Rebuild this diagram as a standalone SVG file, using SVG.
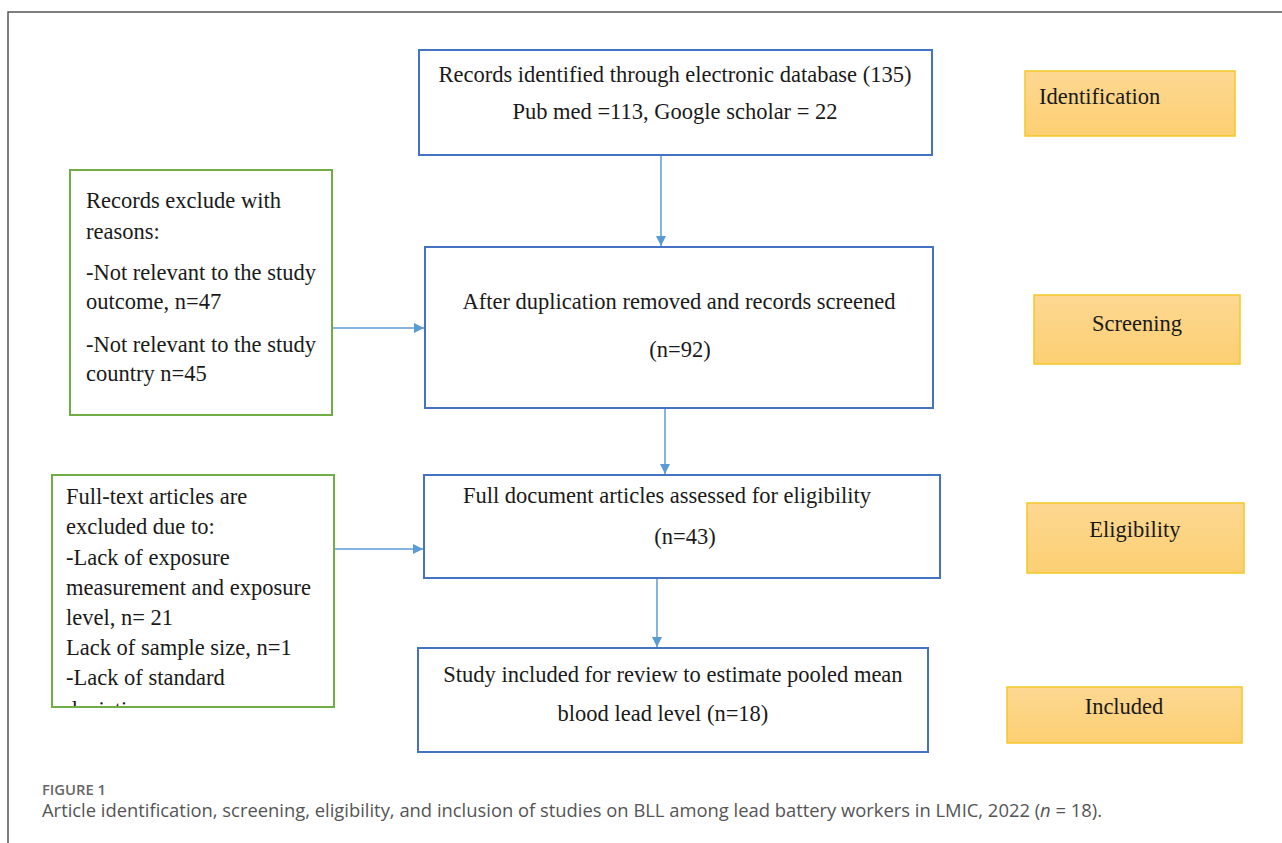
<svg xmlns="http://www.w3.org/2000/svg" width="1282" height="843" viewBox="0 0 1282 843">
<style>
.bg{fill:#ffffff}
.frame{fill:none;stroke:#555555;stroke-width:1.5}
.blue{fill:#ffffff;stroke:#4472c4;stroke-width:2}
.green{fill:#ffffff;stroke:#70ad47;stroke-width:2}
.orange{fill:url(#og);stroke:#f5c828;stroke-width:1.5}
.t{font-family:"Liberation Serif","Times New Roman",serif;font-size:22.5px;fill:#1a1a1a}
.c{text-anchor:middle}
.conn{stroke:#5b9bd5;stroke-width:1.5;fill:none;marker-end:url(#ah)}
.cap1{font-family:"Open Sans","Noto Sans",sans-serif;font-size:14px;font-weight:600;fill:#666666}
.cap2{font-family:"Open Sans","Noto Sans",sans-serif;font-size:18px;fill:#555555}
</style>
<defs>
<linearGradient id="og" x1="0" y1="0" x2="0" y2="1">
<stop offset="0" stop-color="#fdd892"/>
<stop offset="1" stop-color="#fccf72"/>
</linearGradient>
<marker id="ah" viewBox="0 0 10 10" refX="10" refY="5" markerWidth="10" markerHeight="10" markerUnits="userSpaceOnUse" orient="auto">
<path d="M0,0 L10,5 L0,10 z" fill="#5b9bd5"/>
</marker>
<clipPath id="clip2">
<rect x="53" y="476" width="280" height="230"/>
</clipPath>
</defs>
<rect class="bg" x="0" y="0" width="1282" height="843"/>
<path class="frame" d="M8,843 V12 H1282"/>

<g id="connectors">
<line class="conn" x1="661" y1="155" x2="661" y2="246"/>
<line class="conn" x1="665" y1="408" x2="665" y2="474"/>
<line class="conn" x1="657" y1="578" x2="657" y2="647"/>
<line class="conn" x1="332" y1="328" x2="424" y2="328"/>
<line class="conn" x1="334" y1="549" x2="423" y2="549"/>
</g>

<g id="node-identified">
<rect class="blue" x="419" y="50" width="513" height="105"/>
<text class="t c" x="675" y="82">Records identified through electronic database (135)</text>
<text class="t c" x="675" y="119">Pub med =113, Google scholar = 22</text>
</g>

<g id="node-screened">
<rect class="blue" x="425" y="247" width="508" height="161"/>
<text class="t c" x="679" y="309">After duplication removed and records screened</text>
<text class="t c" x="680" y="357">(n=92)</text>
</g>

<g id="node-eligibility">
<rect class="blue" x="424" y="475" width="516" height="103"/>
<text class="t c" x="667" y="503">Full document articles assessed for eligibility</text>
<text class="t c" x="685" y="544">(n=43)</text>
</g>

<g id="node-included">
<rect class="blue" x="418" y="648" width="510" height="104"/>
<text class="t c" x="673" y="682">Study included for review to estimate pooled mean</text>
<text class="t c" x="663" y="721">blood lead level (n=18)</text>
</g>

<g id="node-excluded-1">
<rect class="green" x="70" y="170" width="262" height="245"/>
<text class="t" x="86" y="208">Records exclude with</text>
<text class="t" x="86" y="239">reasons:</text>
<text class="t" x="86" y="280">-Not relevant to the study</text>
<text class="t" x="86" y="309">outcome, n=47</text>
<text class="t" x="86" y="352">-Not relevant to the study</text>
<text class="t" x="86" y="381">country n=45</text>
</g>

<g id="node-excluded-2">
<rect class="green" x="52" y="475" width="282" height="232"/>
<text class="t" x="66" y="504">Full-text articles are</text>
<text class="t" x="66" y="534">excluded due to:</text>
<text class="t" x="66" y="565">-Lack of exposure</text>
<text class="t" x="66" y="595">measurement and exposure</text>
<text class="t" x="66" y="625">level, n= 21</text>
<text class="t" x="66" y="655">Lack of sample size, n=1</text>
<text class="t" x="66" y="685">-Lack of standard</text>
<text class="t" x="66" y="717" clip-path="url(#clip2)">deviation</text>
</g>

<g id="stage-identification">
<rect class="orange" x="1025" y="71" width="210" height="65"/>
<text class="t" x="1039" y="104">Identification</text>
</g>
<g id="stage-screening">
<rect class="orange" x="1034" y="295" width="206" height="69"/>
<text class="t c" x="1137" y="331">Screening</text>
</g>
<g id="stage-eligibility">
<rect class="orange" x="1027" y="503" width="217" height="70"/>
<text class="t c" x="1135" y="537">Eligibility</text>
</g>
<g id="stage-included">
<rect class="orange" x="1007" y="687" width="235" height="56"/>
<text class="t c" x="1124" y="714">Included</text>
</g>

<text class="cap1" x="42" y="795" textLength="64" lengthAdjust="spacingAndGlyphs">FIGURE 1</text>
<text class="cap2" x="42" y="817" textLength="1060" lengthAdjust="spacingAndGlyphs">Article identification, screening, eligibility, and inclusion of studies on BLL among lead battery workers in LMIC, 2022 (<tspan font-style="italic">n</tspan> = 18).</text>
</svg>
